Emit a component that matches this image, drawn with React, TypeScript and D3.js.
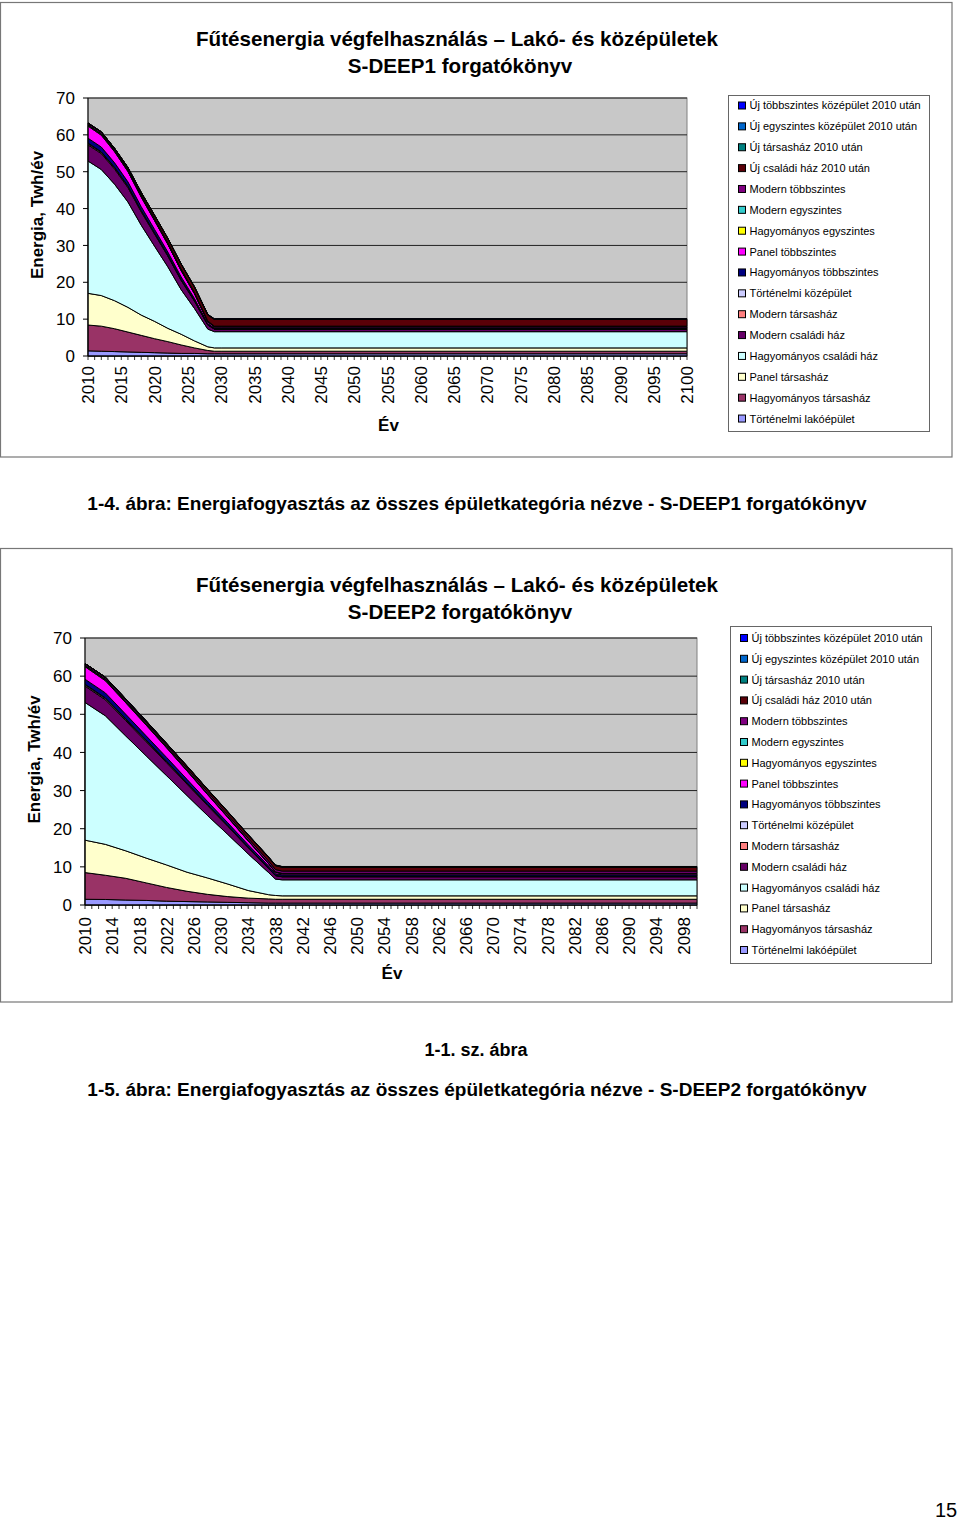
import React from 'react';
import * as d3 from 'd3';

const SERIES = [
  'Történelmi lakóépület',
  'Hagyományos társasház',
  'Panel társasház',
  'Hagyományos családi ház',
  'Modern családi ház',
  'Modern társasház',
  'Történelmi középület',
  'Hagyományos többszintes',
  'Panel többszintes',
  'Hagyományos egyszintes',
  'Modern egyszintes',
  'Modern többszintes',
  'Új családi ház 2010 után',
  'Új társasház 2010 után',
  'Új egyszintes középület 2010 után',
  'Új többszintes középület 2010 után',
];
const COLORS = [
  '#9999FF', '#993366', '#FFFFCC', '#CCFFFF', '#660066', '#FF8080', '#CCCCFF', '#000080',
  '#FF00FF', '#FFFF00', '#33CCCC', '#800080', '#5A0008', '#008080', '#0066CC', '#0000FF',
];

const Y_TICKS = [0, 10, 20, 30, 40, 50, 60, 70];
const X_LABELS_1 = [2010, 2015, 2020, 2025, 2030, 2035, 2040, 2045, 2050, 2055, 2060, 2065, 2070, 2075, 2080, 2085, 2090, 2095, 2100];
const X_LABELS_2 = [2010, 2014, 2018, 2022, 2026, 2030, 2034, 2038, 2042, 2046, 2050, 2054, 2058, 2062, 2066, 2070, 2074, 2078, 2082, 2086, 2090, 2094, 2098];

// ---- S-DEEP1 ----
const YEARS_1 = [2010, 2012, 2014, 2016, 2018, 2020, 2022, 2024, 2026, 2028, 2029, 2030, 2100];
const s1TortLako = [1.4, 1.3, 1.2, 1.1, 1.0, 0.9, 0.8, 0.7, 0.7, 0.6, 0.6, 0.6, 0.6];
const s1HagyTarsas = [7.0, 6.8, 6.2, 5.4, 4.6, 3.8, 3.1, 2.3, 1.5, 0.9, 0.7, 0.7, 0.7];
const s1PanelTarsas = [8.6, 8.3, 7.6, 6.7, 5.5, 4.7, 3.6, 2.9, 1.9, 1.0, 0.9, 0.9, 0.9];
const s1HagyCsaladi = [35.9, 34.2, 31.6, 28.6, 24.4, 20.4, 16.7, 12.1, 8.8, 4.8, 4.4, 4.4, 4.4];
const s1ModCsaladi = [4.4, 4.3, 4.1, 3.9, 3.6, 3.3, 2.9, 2.5, 2.0, 1.1, 0.7, 0.7, 0.7];
const s1ModTarsas = [0.3, 0.3, 0.3, 0.25, 0.2, 0.2, 0.15, 0.15, 0.1, 0.05, 0.05, 0.05, 0.05];
const s1TortKozep = [0.2, 0.2, 0.2, 0.2, 0.2, 0.15, 0.15, 0.1, 0.1, 0.05, 0.05, 0.05, 0.05];
const s1HagyTobb = [1.3, 1.3, 1.2, 1.1, 1.0, 0.9, 0.8, 0.7, 0.5, 0.3, 0.2, 0.2, 0.2];
const s1PanelTobb = [3.3, 3.2, 3.0, 2.8, 2.6, 2.4, 2.1, 1.7, 1.3, 0.5, 0.3, 0.3, 0.3];
const s1HagyEgy = [0.2, 0.2, 0.2, 0.15, 0.15, 0.1, 0.1, 0.1, 0.05, 0.05, 0.05, 0.05, 0.05];
const s1ModEgy = [0.2, 0.2, 0.2, 0.2, 0.15, 0.15, 0.1, 0.1, 0.1, 0.05, 0.05, 0.05, 0.05];
const s1ModTobb = [0.4, 0.4, 0.3, 0.3, 0.3, 0.3, 0.3, 0.3, 0.2, 0.1, 0.1, 0.1, 0.1];
const s1UjCsaladi = [0.0, 0.1, 0.2, 0.4, 0.6, 0.8, 1.0, 1.2, 1.4, 1.6, 1.8, 1.8, 1.8];
const s1UjTarsas = [0.0, 0.02, 0.03, 0.04, 0.05, 0.06, 0.07, 0.08, 0.09, 0.1, 0.1, 0.1, 0.1];
const s1UjEgyKozep = [0.0, 0.01, 0.01, 0.02, 0.02, 0.03, 0.03, 0.04, 0.04, 0.05, 0.05, 0.05, 0.05];
const s1UjTobbKozep = [0.0, 0.01, 0.01, 0.02, 0.02, 0.03, 0.03, 0.04, 0.04, 0.05, 0.05, 0.05, 0.05];

// ---- S-DEEP2 ----
const YEARS_2 = [2010, 2013, 2016, 2019, 2022, 2025, 2028, 2031, 2034, 2037, 2038, 2039, 2100];
const s2TortLako = [1.5, 1.45, 1.3, 1.2, 1.0, 0.9, 0.8, 0.7, 0.6, 0.5, 0.5, 0.5, 0.5];
const s2HagyTarsas = [7.0, 6.35, 5.7, 4.6, 3.6, 2.7, 2.0, 1.5, 1.2, 1.1, 1.0, 1.0, 1.0];
const s2PanelTarsas = [8.5, 8.1, 7.2, 6.5, 5.9, 5.0, 4.3, 3.3, 2.0, 1.1, 1.0, 0.9, 0.9];
const s2HagyCsaladi = [36.1, 33.7, 30.1, 26.8, 23.4, 20.1, 16.4, 13.0, 9.6, 5.8, 4.3, 4.2, 4.2];
const s2ModCsaladi = [4.3, 4.2, 4.0, 3.7, 3.4, 3.0, 2.6, 2.1, 1.6, 1.1, 0.9, 0.8, 0.8];
const s2ModTarsas = [0.3, 0.3, 0.3, 0.25, 0.25, 0.2, 0.2, 0.15, 0.1, 0.08, 0.05, 0.05, 0.05];
const s2TortKozep = [0.2, 0.2, 0.2, 0.2, 0.15, 0.15, 0.1, 0.1, 0.1, 0.05, 0.05, 0.05, 0.05];
const s2HagyTobb = [1.3, 1.3, 1.2, 1.1, 1.0, 0.9, 0.8, 0.7, 0.6, 0.5, 0.4, 0.4, 0.4];
const s2PanelTobb = [3.3, 3.2, 3.0, 2.8, 2.5, 2.2, 1.8, 1.4, 1.0, 0.6, 0.4, 0.3, 0.3];
const s2HagyEgy = [0.2, 0.2, 0.2, 0.15, 0.15, 0.1, 0.1, 0.1, 0.05, 0.05, 0.05, 0.05, 0.05];
const s2ModEgy = [0.2, 0.2, 0.2, 0.2, 0.15, 0.15, 0.1, 0.1, 0.1, 0.05, 0.05, 0.05, 0.05];
const s2ModTobb = [0.4, 0.4, 0.4, 0.4, 0.4, 0.45, 0.5, 0.5, 0.55, 0.6, 0.6, 0.6, 0.6];
const s2UjCsaladi = [0.0, 0.1, 0.2, 0.3, 0.4, 0.5, 0.6, 0.7, 0.8, 0.9, 1.0, 1.0, 1.0];
const s2UjTarsas = [0.0, 0.02, 0.03, 0.04, 0.05, 0.06, 0.07, 0.08, 0.09, 0.1, 0.1, 0.1, 0.1];
const s2UjEgyKozep = [0.0, 0.01, 0.01, 0.02, 0.02, 0.03, 0.03, 0.04, 0.04, 0.05, 0.05, 0.05, 0.05];
const s2UjTobbKozep = [0.0, 0.01, 0.01, 0.02, 0.02, 0.03, 0.03, 0.04, 0.04, 0.05, 0.05, 0.05, 0.05];

const VALUES_1 = [s1TortLako, s1HagyTarsas, s1PanelTarsas, s1HagyCsaladi, s1ModCsaladi, s1ModTarsas, s1TortKozep, s1HagyTobb, s1PanelTobb, s1HagyEgy, s1ModEgy, s1ModTobb, s1UjCsaladi, s1UjTarsas, s1UjEgyKozep, s1UjTobbKozep];
const VALUES_2 = [s2TortLako, s2HagyTarsas, s2PanelTarsas, s2HagyCsaladi, s2ModCsaladi, s2ModTarsas, s2TortKozep, s2HagyTobb, s2PanelTobb, s2HagyEgy, s2ModEgy, s2ModTobb, s2UjCsaladi, s2UjTarsas, s2UjEgyKozep, s2UjTobbKozep];

const FONT = "'Liberation Sans', Arial, Helvetica, sans-serif";
const TITLE_1 = 'Fűtésenergia végfelhasználás – Lakó- és középületek';

type Layout = {
  frame: { x: number; y: number; w: number; h: number };
  plot: { x0: number; x1: number; top: number; bottom: number };
  titleY: number;
  yTitleX: number;
  xLabelTop: number;
  xTitleY: number;
  legend: { x: number; y: number; w: number; h: number; first: number; step: number };
};

function Chart({ years, values, xLabels, scenario, L }: { years: number[]; values: number[][]; xLabels: number[]; scenario: string; L: Layout }) {
  const x = d3.scaleLinear().domain([2010, 2100]).range([L.plot.x0, L.plot.x1]);
  const y = d3.scaleLinear().domain([0, 70]).range([L.plot.bottom, L.plot.top]);
  const table = years.map((yr, i) => {
    const row: any = { year: yr };
    SERIES.forEach((s, k) => { row[s] = values[k][i]; });
    return row;
  });
  const stacked = d3.stack<any>().keys(SERIES)(table);
  const area = d3.area<any>().x((d: any) => x(d.data.year)).y0((d: any) => y(d[0])).y1((d: any) => y(d[1]));
  const minorYears = d3.range(2010, 2101);
  const legendOrder = SERIES.map((s, i) => i).reverse();
  return (
    <g fontFamily={FONT}>
      <rect x={L.frame.x} y={L.frame.y} width={L.frame.w} height={L.frame.h} fill="#fff" stroke="#777" strokeWidth={1.2} />
      <text x={457} y={L.titleY} textAnchor="middle" fontSize={20.6} fontWeight="bold">{TITLE_1}</text>
      <text x={460} y={L.titleY + 27} textAnchor="middle" fontSize={20.6} fontWeight="bold">{scenario}</text>
      <rect x={L.plot.x0} y={L.plot.top} width={L.plot.x1 - L.plot.x0} height={L.plot.bottom - L.plot.top} fill="#C8C8C8" stroke="#808080" />
      {Y_TICKS.map((t) => (
        <line key={'g' + t} x1={L.plot.x0} x2={L.plot.x1} y1={y(t)} y2={y(t)} stroke="#222" strokeWidth={1} />
      ))}
      {stacked.map((layer, i) => (
        <path key={'a' + i} d={area(layer as any) || ''} fill={COLORS[i]} stroke="#000" strokeWidth={1} strokeLinejoin="round" />
      ))}
      <line x1={L.plot.x0} x2={L.plot.x0} y1={L.plot.top} y2={L.plot.bottom} stroke="#000" />
      <line x1={L.plot.x0} x2={L.plot.x1} y1={L.plot.bottom} y2={L.plot.bottom} stroke="#000" />
      {Y_TICKS.map((t) => (
        <g key={'yt' + t}>
          <line x1={L.plot.x0 - 5} x2={L.plot.x0} y1={y(t)} y2={y(t)} stroke="#000" />
          <text x={L.plot.x0 - 13} y={y(t)} dy="0.36em" textAnchor="end" fontSize={17}>{t}</text>
        </g>
      ))}
      {minorYears.map((yr) => (
        <line key={'xt' + yr} x1={x(yr)} x2={x(yr)} y1={L.plot.bottom} y2={L.plot.bottom + 4} stroke="#000" strokeWidth={0.8} />
      ))}
      {xLabels.map((yr) => (
        <text key={'xl' + yr} transform={`translate(${x(yr)},${L.xLabelTop}) rotate(-90)`} dy="0.36em" textAnchor="end" fontSize={17}>{yr}</text>
      ))}
      <text transform={`translate(${L.yTitleX},${(L.plot.top + L.plot.bottom) / 2 - 12}) rotate(-90)`} dy="0.36em" textAnchor="middle" fontSize={17} fontWeight="bold">Energia, Twh/év</text>
      <text x={x(2010) + (x(2100) - x(2010)) / 2 + 1} y={L.xTitleY} dy="0.36em" textAnchor="middle" fontSize={17} fontWeight="bold">Év</text>
      <rect x={L.legend.x} y={L.legend.y} width={L.legend.w} height={L.legend.h} fill="#fff" stroke="#666" />
      {legendOrder.map((si, j) => {
        const ly = L.legend.first + j * L.legend.step;
        return (
          <g key={'lg' + si}>
            <rect x={L.legend.x + 10} y={ly - 3.5} width={7} height={7} fill={COLORS[si]} stroke="#000" strokeWidth={1} />
            <text x={L.legend.x + 21} y={ly} dy="0.36em" fontSize={11}>{SERIES[si]}</text>
          </g>
        );
      })}
    </g>
  );
}

const LAYOUT_1: Layout = {
  frame: { x: 0.5, y: 2.5, w: 951.5, h: 454.5 },
  plot: { x0: 88, x1: 687, top: 98, bottom: 356 },
  titleY: 46,
  yTitleX: 37,
  xLabelTop: 366,
  xTitleY: 425,
  legend: { x: 728.5, y: 95.5, w: 201, h: 336, first: 105.5, step: 20.87 },
};
const LAYOUT_2: Layout = {
  frame: { x: 0.5, y: 548.5, w: 951.5, h: 453.5 },
  plot: { x0: 85, x1: 697, top: 638, bottom: 905 },
  titleY: 592,
  yTitleX: 34,
  xLabelTop: 917,
  xTitleY: 973,
  legend: { x: 730.5, y: 626.5, w: 201, h: 337, first: 638, step: 20.8 },
};

export default function App() {
  return (
    <svg width={960} height={1521} style={{ position: 'absolute', left: 0, top: 0, background: '#fff' }} fontFamily={FONT}>
      <rect x={0} y={0} width={960} height={1521} fill="#fff" />
      <Chart years={YEARS_1} values={VALUES_1} xLabels={X_LABELS_1} scenario="S-DEEP1 forgatókönyv" L={LAYOUT_1} />
      <text x={477} y={510} textAnchor="middle" fontSize={19} fontWeight="bold">1-4. ábra: Energiafogyasztás az összes épületkategória nézve - S-DEEP1 forgatókönyv</text>
      <Chart years={YEARS_2} values={VALUES_2} xLabels={X_LABELS_2} scenario="S-DEEP2 forgatókönyv" L={LAYOUT_2} />
      <text x={476} y={1056} textAnchor="middle" fontSize={18} fontWeight="bold">1-1. sz. ábra</text>
      <text x={477} y={1096} textAnchor="middle" fontSize={19} fontWeight="bold">1-5. ábra: Energiafogyasztás az összes épületkategória nézve - S-DEEP2 forgatókönyv</text>
      <text x={946} y={1517} textAnchor="middle" fontSize={20}>15</text>
    </svg>
  );
}
